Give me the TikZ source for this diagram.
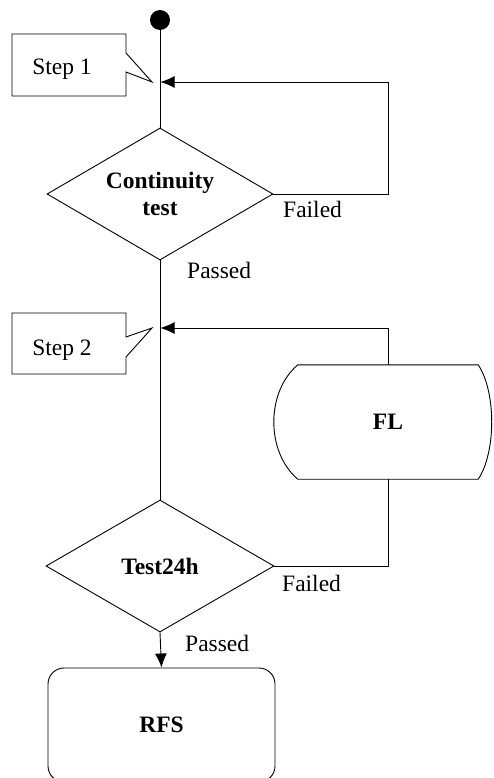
\documentclass[tikz,border=0pt]{standalone}
\usepackage{fontspec}
\setmainfont{Liberation Serif}
\usetikzlibrary{shapes.geometric,arrows.meta,calc}
\tikzset{
  ln/.style={line width=0.9pt, line join=miter},
  arr/.style={ln, -{Latex[length=14pt,width=12pt]}},
  lbl/.style={font=\fontsize{23.5}{28}\selectfont, inner sep=0pt, anchor=base west},
  decision/.style={ln, draw, shape=diamond, inner sep=0pt, aspect=1.71, font=\fontsize{23.5}{27}\selectfont\bfseries, align=center},
  process/.style={ln, draw, rounded corners=16pt, inner sep=0pt, font=\fontsize{23.5}{28}\selectfont\bfseries},
  stepbox/.style={ln, draw},
  steptext/.style={font=\fontsize{23.5}{28}\selectfont, inner sep=0pt, anchor=base},
}
\begin{document}
\begin{tikzpicture}[x=1pt,y=-1pt]
\useasboundingbox (0,0) rectangle (493,778);
% start dot
\node[circle, fill=black, inner sep=0pt, minimum size=20pt] (start) at (160,20) {};
% decisions
\node[decision, minimum width=226pt, minimum height=132pt] (d1) at (160,194) {Continuity\\test};
\node[decision, minimum width=228pt, minimum height=132pt] (d2) at (160,566) {Test24h};
% FL terminal shape
\node[inner sep=0pt, minimum width=180pt, minimum height=114pt, font=\fontsize{23.5}{28}\selectfont\bfseries] (fl) at (388,422) {FL};
\draw[ln] (fl.north west) -- (fl.north east)
  .. controls ($(fl.north east)+(18,27)$) and ($(fl.south east)+(18,-27)$) .. (fl.south east)
  -- (fl.south west)
  .. controls ($(fl.south west)+(-32,-27)$) and ($(fl.north west)+(-32,27)$) .. (fl.north west) -- cycle;
% RFS
\node[process, minimum width=227pt, minimum height=114pt] (rfs) at (161.5,725) {RFS};
% junctions on the main line
\coordinate (j1) at (160.5,82);
\coordinate (j2) at (160.5,328);
% connectors
\draw[ln] (start) -- (d1.north);
\draw[arr] (d1.east) -| (fl.north |- j1) -- (j1);
\draw[ln] (d1.south) -- (d2.north);
\draw[arr] (fl.north) |- (j2);
\draw[ln] (fl.south) |- (d2.east);
\draw[arr] (d2.south) -- (rfs.north);
% labels
\node[lbl] (f1) at (283,217) {Failed};
\node[lbl] (p1) at (187,278) {Passed};
\node[lbl] (f2) at (282,591) {Failed};
\node[lbl] (p2) at (185,651) {Passed};
% callouts
\draw[stepbox] (12,34) -- (126,34) -- (126,53) -- (152,82) -- (126,72) -- (126,96) -- (12,96) -- cycle;
\node[steptext] (s1) at (62,75) {Step 1};
\draw[stepbox] (12,313) -- (126,313) -- (126,337) -- (152,328) -- (126,357) -- (126,374) -- (12,374) -- cycle;
\node[steptext] (s2) at (62,355) {Step 2};
\end{tikzpicture}
\end{document}
